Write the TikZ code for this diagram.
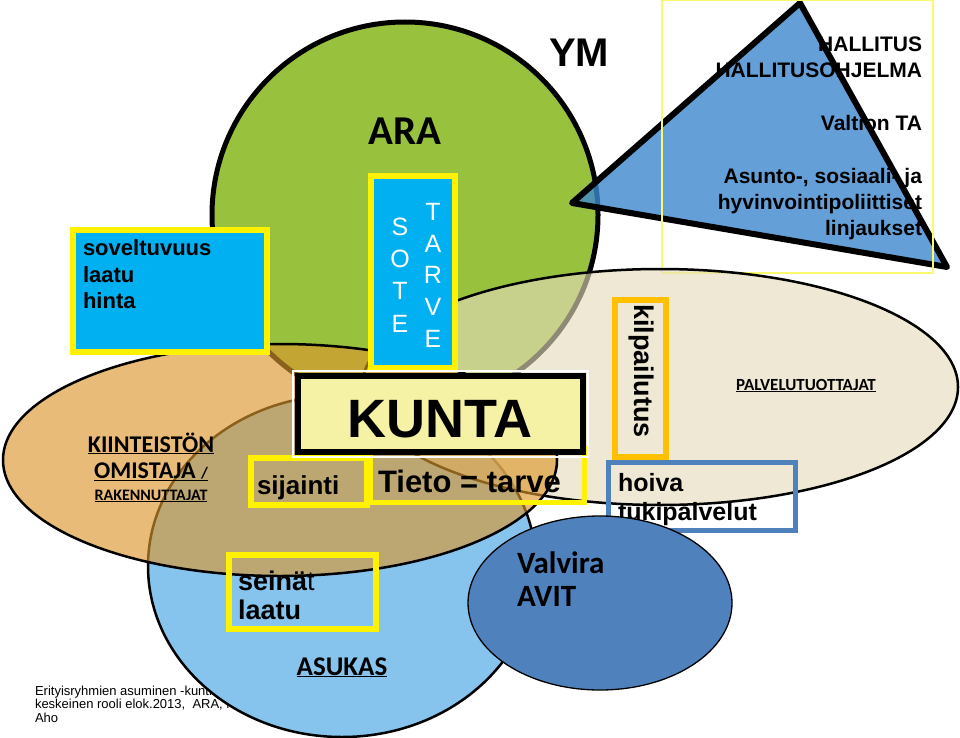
\documentclass[tikz,border=0pt]{standalone}
\usepackage{fontspec}
\setmainfont{Liberation Sans}
\newfontfamily\carlito{Carlito}
\newcommand\fsz[1]{\fontsize{#1}{#1}\selectfont}
\definecolor{aragreen}{RGB}{152,194,62}
\definecolor{asukasblue}{RGB}{134,196,238}
\definecolor{cyanbox}{RGB}{0,176,240}
\definecolor{kuntafill}{RGB}{245,242,165}
\definecolor{valvirablue}{RGB}{79,129,189}
\definecolor{triblue}{RGB}{61,136,205}
\definecolor{orangeC}{RGB}{219,150,44}
\definecolor{beigeC}{RGB}{228,219,187}
\definecolor{goldC}{RGB}{255,192,0}
\definecolor{frameyellow}{RGB}{250,250,110}
\tikzset{
  txt/.style={inner sep=0pt, outer sep=0pt},
  ybox/.style={draw=yellow, line width=6},
  bigshape/.style={draw=black, line width=2.5},
}
\begin{document}
\begin{tikzpicture}[x=1pt,y=-1pt]
\useasboundingbox (0,0) rectangle (960,738);
% footer (partly hidden by ASUKAS)
\node[txt, anchor=base west, font=\fsz{13}] (foot1) at (35,695) {Erityisryhmien asuminen -kuntien};
\node[txt, anchor=base west, font=\fsz{13}] (foot2) at (35,708.5) {keskeinen rooli elok.2013,\ \ ARA, M.};
\node[txt, anchor=base west, font=\fsz{13}] (foot3) at (35,722) {Aho};
% ARA circle
\draw[line width=5, fill=aragreen] (405,215) ellipse [x radius=193, y radius=193];
% government triangle
\draw[line width=6, line join=round, fill=triblue, fill opacity=0.8] (800,3) -- (572,203) -- (947,267) -- cycle;
\draw[line width=1.2, draw=frameyellow] (662,0.6) rectangle (933,273);
% ASUKAS ellipse
\draw[bigshape, fill=asukasblue] (342,566) ellipse [x radius=194, y radius=171];
% PALVELUTUOTTAJAT ellipse
\draw[bigshape, fill=beigeC, fill opacity=0.63] (660,387) ellipse [x radius=298, y radius=118];
% KIINTEISTON OMISTAJA ellipse
\draw[bigshape, fill=orangeC, fill opacity=0.64] (280,460) ellipse [x radius=277, y radius=116];
% labels of big shapes
\node[txt, anchor=base, font=\carlito\bfseries\fsz{41}] (ara) at (405,145) {ARA};
\node[txt, anchor=base west, font=\bfseries\fsz{40}] (ym) at (549,67) {YM};
\node[txt, anchor=base east, font=\bfseries\fsz{21}] (hal1) at (922,52) {HALLITUS};
\node[txt, anchor=base east, font=\bfseries\fsz{21}] (hal2) at (922,78) {HALLITUSOHJELMA};
\node[txt, anchor=base east, font=\bfseries\fsz{21}] (hal3) at (922,131) {Valtion TA};
\node[txt, anchor=base east, font=\bfseries\fsz{21}] (hal4) at (922,183) {Asunto-, sosiaali- ja};
\node[txt, anchor=base east, font=\bfseries\fsz{21}] (hal5) at (922,209) {hyvinvointipoliittiset};
\node[txt, anchor=base east, font=\bfseries\fsz{21}] (hal6) at (922,235) {linjaukset};
\node[txt, anchor=base, font=\carlito\bfseries\fsz{24}] (kii1) at (151,452) {\underline{KIINTEISTÖN}};
\node[txt, anchor=base, font=\carlito\bfseries\fsz{24}] (kii2) at (151,478) {\underline{OMISTAJA {\fsz{16}/}}};
\node[txt, anchor=base, font=\carlito\bfseries\fsz{16}] (kii3) at (151,500) {\underline{RAKENNUTTAJAT}};
\node[txt, anchor=base, font=\carlito\bfseries\fsz{17}] (palv) at (806,390) {\underline{PALVELUTUOTTAJAT}};
\node[txt, anchor=base, font=\carlito\bfseries\fsz{27}] (asukas) at (342,675) {\underline{ASUKAS}};
% soveltuvuus box
\draw[ybox, fill=cyanbox] (73,230) rectangle (267,352);
\node[txt, anchor=base west, font=\bfseries\fsz{22}] (sov1) at (83,255) {soveltuvuus};
\node[txt, anchor=base west, font=\bfseries\fsz{22}] (sov2) at (83,282) {laatu};
\node[txt, anchor=base west, font=\bfseries\fsz{22}] (sov3) at (83,308) {hinta};
% SOTE / TARVE box
\draw[ybox, fill=cyanbox] (371,176) rectangle (455,368);
\node[txt, anchor=base, font=\fsz{25}, text=white] (s1) at (400,235) {S};
\node[txt, anchor=base, font=\fsz{25}, text=white] (s2) at (400,267) {O};
\node[txt, anchor=base, font=\fsz{25}, text=white] (s3) at (400,299) {T};
\node[txt, anchor=base, font=\fsz{25}, text=white] (s4) at (400,332) {E};
\node[txt, anchor=base, font=\fsz{25}, text=white] (t1) at (433,220) {T};
\node[txt, anchor=base, font=\fsz{25}, text=white] (t2) at (433,252) {A};
\node[txt, anchor=base, font=\fsz{25}, text=white] (t3) at (433,283) {R};
\node[txt, anchor=base, font=\fsz{25}, text=white] (t4) at (433,315) {V};
\node[txt, anchor=base, font=\fsz{25}, text=white] (t5) at (433,347) {E};
% Tieto = tarve box
\draw[draw=yellow, line width=5] (370,448) rectangle (584,502);
\node[txt, anchor=base west, font=\bfseries\fsz{31}] (tieto) at (378,492) {Tieto = tarve};
% sijainti box
\draw[ybox] (251,458) rectangle (367,505);
\node[txt, anchor=base west, font=\bfseries\fsz{26}] (sij) at (257,494) {sijainti};
% KUNTA box
\draw[draw=white, line width=2] (293,371) rectangle (588,457);
\draw[draw=black, line width=6, fill=kuntafill] (298,376) rectangle (583,452);
\node[txt, anchor=base, font=\bfseries\fsz{54}] (kunta) at (440,437) {KUNTA};
% seinat box
\draw[ybox] (229,555) rectangle (376,629);
\node[txt, anchor=base west, font=\fsz{27}] (sein) at (238,590) {{\bfseries seinä}t};
\node[txt, anchor=base west, font=\bfseries\fsz{27}] (laatu2) at (238,619) {laatu};
% kilpailutus box
\draw[draw=goldC, line width=6] (615,300) rectangle (666,457);
\node[txt, rotate=-90, font=\bfseries\fsz{27}] (kilp) at (641,371) {kilpailutus};
% hoiva box
\draw[draw=valvirablue, line width=5] (608,462) rectangle (795,530);
\node[txt, anchor=base west, font=\bfseries\fsz{25}] (hoiva) at (618,491) {hoiva};
\node[txt, anchor=base west, font=\bfseries\fsz{25}] (tuki) at (618,520) {tukipalvelut};
% Valvira ellipse
\draw[draw=black, line width=1.3, fill=valvirablue] (600,603) ellipse [x radius=132, y radius=87];
\node[txt, anchor=base west, font=\carlito\bfseries\fsz{31}] (valv1) at (517,573) {Valvira};
\node[txt, anchor=base west, font=\carlito\bfseries\fsz{31}] (valv2) at (517,606) {AVIT};
\end{tikzpicture}
\end{document}
